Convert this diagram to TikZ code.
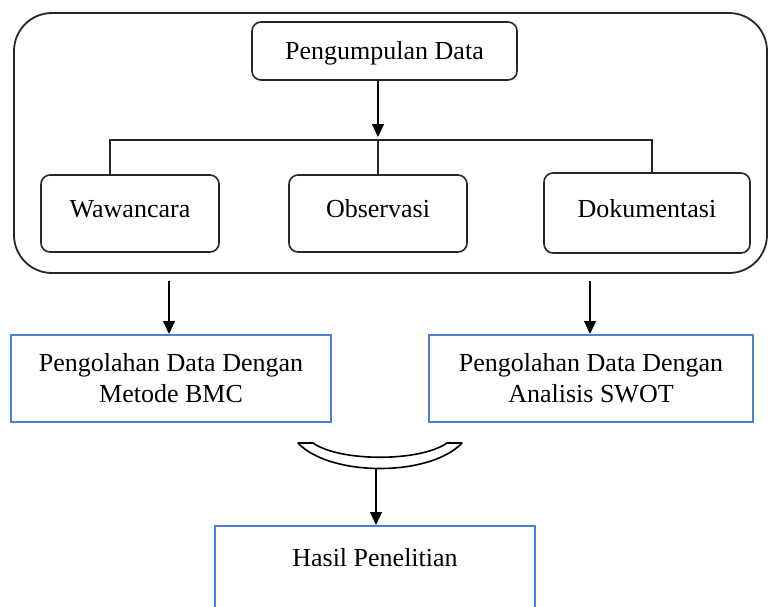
\documentclass[tikz,border=0pt]{standalone}
\usepackage{fontspec}
\setmainfont{Liberation Serif}
\usetikzlibrary{arrows.meta}
\definecolor{boxblue}{RGB}{79,129,209}
\begin{document}
\begin{tikzpicture}[x=1pt,y=-1pt,
  every node/.style={font=\fontsize{26}{31}\selectfont},
  greybox/.style={draw=black!85, line width=1.6pt, rounded corners=9pt, inner sep=0pt},
  bluebox/.style={draw=boxblue, line width=2pt, inner sep=0pt, align=center},
  uptext/.style={text height=20pt, text depth=12pt},
  arr/.style={line width=1.2pt, -{Triangle[length=13pt,width=12pt]}},
  ln/.style={line width=1.6pt, draw=black!85}]
\useasboundingbox (0,0) rectangle (769,606);
\clip (0,0) rectangle (769,606);
% container
\node[draw=black!85, line width=1.8pt, rounded corners=38pt, minimum width=753pt, minimum height=260pt, inner sep=0pt] (group) at (390.5,143) {};
% nodes
\node[greybox, text height=18pt, text depth=2pt, minimum width=265pt, minimum height=58pt] (pd) at (384.5,51) {Pengumpulan Data};
\node[greybox, uptext, minimum width=178pt, minimum height=77pt] (waw) at (130,213.5) {Wawancara};
\node[greybox, uptext, minimum width=178pt, minimum height=77pt] (obs) at (378,213.5) {Observasi};
\node[greybox, uptext, minimum width=206pt, minimum height=80pt] (dok) at (647,213) {Dokumentasi};
\node[bluebox, minimum width=320pt, minimum height=87pt] (bmc) at (171,378.5) {Pengolahan Data Dengan\\Metode BMC};
\node[bluebox, minimum width=324pt, minimum height=87pt] (swot) at (591,378.5) {Pengolahan Data Dengan\\Analisis SWOT};
\node[bluebox, anchor=north, minimum width=320pt, minimum height=120pt] (hasil) at (375,525) {};
\node (hasiltext) at (375,558) {Hasil Penelitian};
% tree connectors
\coordinate (jl) at (110,140);
\coordinate (jr) at (652,140);
\coordinate (jm) at (378,140);
\draw[arr] (pd.south -| jm) -- ([yshift=3pt]jm);
\draw[ln] (jl |- waw.north) -- (jl) -- (jr) -- (jr |- dok.north);
\draw[ln] (jm) -- (obs.north);
% arrows to processing
\draw[arr] ([yshift=-7pt]group.south -| 169,0) -- (bmc.north -| 169,0);
\draw[arr] ([yshift=-7pt]group.south -| 590,0) -- (swot.north -| 590,0);
% bracket
\draw[line width=1.6pt, line join=round] (298,443) -- (313,443)
  .. controls (340,462) and (420,462) .. (447,443) -- (462,443)
  .. controls (430,477) and (330,477) .. cycle;
\coordinate (brk) at (376,469);
\draw[arr] (brk) -- (hasil.north -| brk);
\end{tikzpicture}
\end{document}
